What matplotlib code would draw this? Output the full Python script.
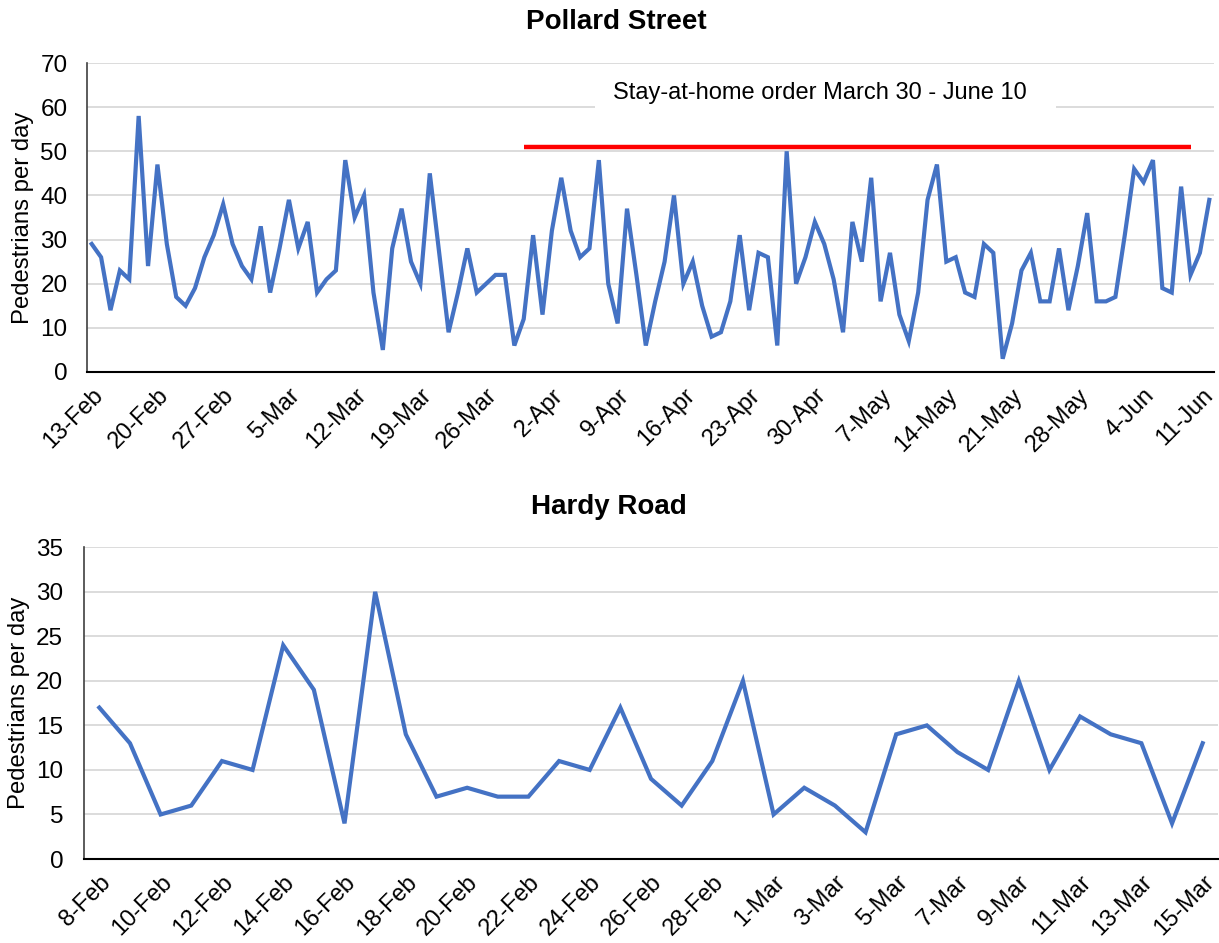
import matplotlib
matplotlib.use("Agg")
import matplotlib.pyplot as plt
from matplotlib.patches import Rectangle
from matplotlib.transforms import ScaledTranslation
import pandas as pd
import numpy as np

plt.rcParams['font.family'] = ['Liberation Sans', 'DejaVu Sans']

# ---------------- data ----------------
pollard_start = "2020-02-13"
pollard_end = "2020-06-11"
pollard_counts = [29, 26, 14, 23, 21, 58, 24, 47, 29, 17, 15, 19, 26, 31, 38, 29, 24, 21, 33, 18,
                  28, 39, 28, 34, 18, 21, 23, 48, 35, 40, 18, 5, 28, 37, 25, 20, 45, 27, 9, 18,
                  28, 18, 20, 22, 22, 6, 12, 31, 13, 32, 44, 32, 26, 28, 48, 20, 11, 37, 22, 6,
                  16, 25, 40, 20, 25, 15, 8, 9, 16, 31, 14, 27, 26, 6, 50, 20, 26, 34, 29, 21,
                  9, 34, 25, 44, 16, 27, 13, 7, 18, 39, 47, 25, 26, 18, 17, 29, 27, 3, 11, 23,
                  27, 16, 16, 28, 14, 24, 36, 16, 16, 17, 31, 46, 43, 48, 19, 18, 42, 22, 27, 39]

hardy_start = "2020-02-08"
hardy_end = "2020-03-15"
hardy_counts = [17, 13, 5, 6, 11, 10, 24, 19, 4, 30, 14, 7, 8, 7, 7, 11, 10, 17, 9, 6,
                11, 20, 5, 8, 6, 3, 14, 15, 12, 10, 20, 10, 16, 14, 13, 4, 13]

order_line_start = "2020-03-30"
order_line_end = "2020-06-09"
order_line_level = 51
order_text = "Stay-at-home order March 30 - June 10"

pollard_yticks = [0, 10, 20, 30, 40, 50, 60, 70]
hardy_yticks = [0, 5, 10, 15, 20, 25, 30, 35]

# ---------------- styling ----------------
LINE_COLOR = "#4472C4"
GRID_COLOR = "#D9D9D9"
W, H = 1219, 943
fig = plt.figure(figsize=(W / 100, H / 100), dpi=100)


def fmt(d):
    return f"{d.day}-{d.strftime('%b')}"


def style_axes(ax, dates, counts, yticks, step, ylabel_x, ypad):
    x = np.arange(len(counts))
    ax.plot(x, counts, color=LINE_COLOR, lw=3.0, solid_joinstyle='miter', zorder=3)
    ax.set_xlim(-0.5, len(counts) - 0.5)
    ax.set_ylim(yticks[0], yticks[-1])
    ax.set_yticks(yticks)
    ax.yaxis.grid(True, color=GRID_COLOR, lw=1.3)
    ax.set_axisbelow(True)
    ticks = x[::step]
    ax.set_xticks(ticks)
    ax.set_xticklabels([fmt(dates[i]) for i in ticks], rotation=45, ha='right', va='top',
                       rotation_mode='anchor', fontsize=17)
    ax.tick_params(axis='x', length=0, pad=9)
    ax.tick_params(axis='y', length=0, pad=ypad, labelsize=17.5)
    for s in ('top', 'right'):
        ax.spines[s].set_visible(False)
    ax.spines['left'].set_color('#404040')
    ax.spines['left'].set_linewidth(1.2)
    ax.spines['bottom'].set_color('black')
    ax.spines['bottom'].set_linewidth(1.5)
    ax.spines['bottom'].set_zorder(4)
    ax.set_ylabel("Pedestrians per day", fontsize=17.2, va='center')
    ax.yaxis.set_label_coords(ylabel_x, 0.5)


# ---------------- Pollard Street ----------------
p_dates = pd.date_range(pollard_start, pollard_end, freq='D')
ax1 = fig.add_axes([87 / W, 1 - 372 / H, (1214 - 87) / W, (372 - 63) / H])
style_axes(ax1, p_dates, pollard_counts, pollard_yticks, 7, -0.057, 14)
last = ax1.get_xticklabels()[-1]
last.set_transform(last.get_transform() + ScaledTranslation(-7 / 100, 0, fig.dpi_scale_trans))

i0 = int(np.where(p_dates == pd.Timestamp(order_line_start))[0][0])
i1 = int(np.where(p_dates == pd.Timestamp(order_line_end))[0][0])
ax1.plot([i0, i1], [order_line_level, order_line_level], color='#FF0000', lw=3.2,
         solid_capstyle='butt', zorder=2.5)
ax1.add_patch(Rectangle((53.6, 57.5), 49.1, 10.5, facecolor='white', edgecolor='none', zorder=1.5))
ax1.text(77.5, 63.2, order_text, ha='center', va='center', fontsize=17, zorder=2)

fig.text(616 / W, 1 - 22 / H, "Pollard Street", ha='center', va='center',
         fontsize=20, fontweight='bold')

# ---------------- Hardy Road ----------------
h_dates = pd.date_range(hardy_start, hardy_end, freq='D')
ax2 = fig.add_axes([84 / W, 1 - 859 / H, (1218 - 84) / W, (859 - 547.3) / H])
style_axes(ax2, h_dates, hardy_counts, hardy_yticks, 2, -0.057, 15)

fig.text(609 / W, 1 - 507 / H, "Hardy Road", ha='center', va='center',
         fontsize=20, fontweight='bold')

fig.savefig("out.png", dpi=100, facecolor='white')
